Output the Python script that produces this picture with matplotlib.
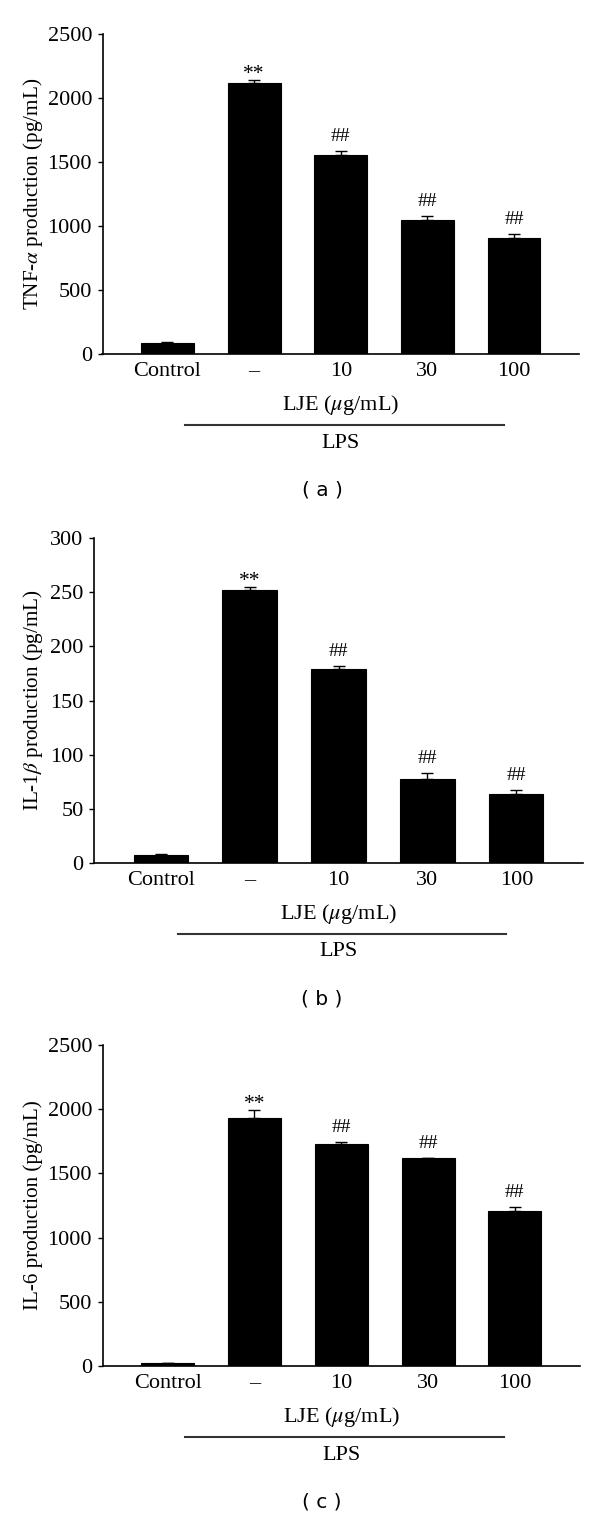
import matplotlib
matplotlib.use('Agg')
import matplotlib.pyplot as plt
import matplotlib.transforms as mtrans

plt.rcParams['font.family'] = ['Liberation Serif', 'DejaVu Serif']
plt.rcParams['mathtext.fontset'] = 'stix'

# groups on the x axis
categories = ['Control', '\u2013', '10', '30', '100']
marks = ['', '**', '##', '##', '##']

# (a) TNF-alpha
tnf = [88, 2115, 1555, 1050, 906]
tnf_err = [4, 28, 28, 25, 33]

# (b) IL-1beta
il1b = [7.5, 252, 179, 77.5, 64]
il1b_err = [0.5, 3, 3, 5.5, 3.5]

# (c) IL-6
il6 = [24, 1929, 1729, 1617, 1210]
il6_err = [3, 62, 16, 5, 26]

panels = [
    (tnf, tnf_err, r'TNF-$\alpha$ production (pg/mL)', 2500, 500, '( a )',
     [102.5 / 600, 1 - 354 / 1519, 476.5 / 600, 320 / 1519]),
    (il1b, il1b_err, r'IL-1$\beta$ production (pg/mL)', 300, 50, '( b )',
     [94 / 600, 1 - 863 / 1519, 489 / 600, 325 / 1519]),
    (il6, il6_err, 'IL-6 production (pg/mL)', 2500, 500, '( c )',
     [102.5 / 600, 1 - 1366 / 1519, 477.5 / 600, 321 / 1519]),
]

fig = plt.figure(figsize=(6, 15.19), dpi=100)

for vals, errs, ylab, ymax, ystep, tag, pos in panels:
    ax = fig.add_axes(pos)
    x = list(range(len(categories)))
    ax.bar(x, vals, width=0.61, color='black', edgecolor='black', linewidth=0.8,
           yerr=[[0] * len(errs), errs], capsize=4,
           error_kw=dict(ecolor='black', elinewidth=1, capthick=1))
    ax.set_xlim(-0.75, 4.75)
    ax.set_ylim(0, ymax)
    ax.set_yticks(range(0, ymax + 1, ystep))
    ax.set_xticks(x)
    ax.set_xticklabels(categories)
    ax.tick_params(axis='x', length=0, pad=6, labelsize=16)
    ax.tick_params(axis='y', length=3.5, width=1, direction='out', pad=4, labelsize=16)
    for s in ['top', 'right']:
        ax.spines[s].set_visible(False)
    for s in ['left', 'bottom']:
        ax.spines[s].set_linewidth(1.2)

    # significance marks
    for i, m in enumerate(marks):
        if not m:
            continue
        if m == '**':
            off, fs = 1, 15.5
        else:
            off, fs = 10, 14
        ax.annotate(m, xy=(i, vals[i] + errs[i]), xytext=(0, off),
                    textcoords='offset pixels', ha='center', va='baseline',
                    fontsize=fs)

    # group labels under the axis
    ax.annotate(r'LJE ($\mu$g/mL)', xy=(2, 0), xycoords=('data', 'axes fraction'),
                xytext=(0, -51), textcoords='offset pixels',
                ha='center', va='center', fontsize=16)
    shift = mtrans.ScaledTranslation(0, -71 / 100, fig.dpi_scale_trans)
    ax.plot([0.2, 3.88], [0, 0], color='#333333', lw=1.5, clip_on=False,
            transform=ax.get_xaxis_transform() + shift)
    ax.annotate('LPS', xy=(2, 0), xycoords=('data', 'axes fraction'),
                xytext=(0, -89), textcoords='offset pixels',
                ha='center', va='center', fontsize=16)

    # y label and panel tag
    ymid = pos[1] + pos[3] / 2
    fig.text(33 / 600, ymid, ylab, rotation=90, ha='center', va='center',
             fontsize=15.2)
    fig.text(322 / 600, pos[1] - 136 / 1519, tag, ha='center', va='center',
             fontsize=14.5, family='DejaVu Sans')

fig.savefig('out.png', dpi=100)
